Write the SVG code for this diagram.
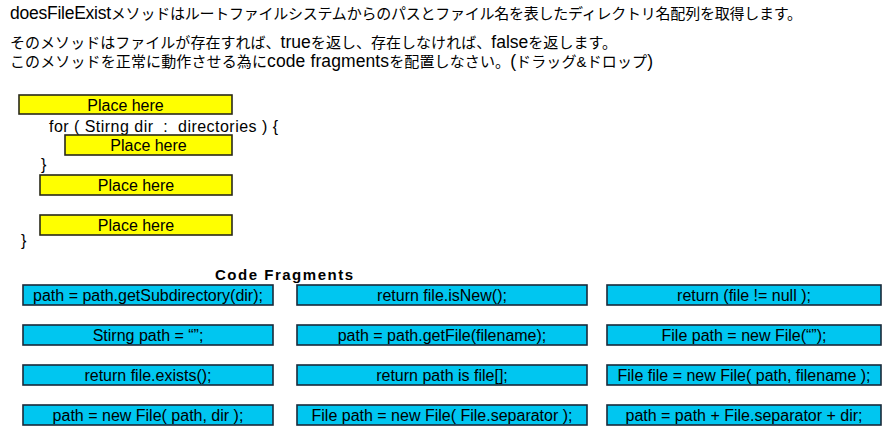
<svg xmlns="http://www.w3.org/2000/svg" width="890" height="442" viewBox="0 0 890 442">
<style>
text{font-family:"Liberation Sans","Noto Sans CJK JP",sans-serif;fill:#000;white-space:pre}
.jp{font-size:15px}
.lat{font-size:17.5px}
.code{font-size:16px}
.mid{text-anchor:middle}
.slot{fill:#ffff00;stroke:#2a2a1a;stroke-width:1.6}
.frag{fill:#00c6f0;stroke:#1a2a3a;stroke-width:1.6}
.title{font-size:15px;font-weight:bold}
</style>
<rect width="890" height="442" fill="#fff"/>
<g id="instructions">
<text class="jp" x="10" y="19" textLength="792" lengthAdjust="spacing"><tspan class="lat">doesFileExist</tspan>メソッドはルートファイルシステムからのパスとファイル名を表したディレクトリ名配列を取得します。</text>
<text class="jp" x="10" y="48" textLength="607" lengthAdjust="spacing">そのメソッドはファイルが存在すれば、<tspan class="lat">true</tspan>を返し、存在しなければ、<tspan class="lat">false</tspan>を返します。</text>
<text class="jp" x="10" y="67" textLength="643" lengthAdjust="spacing">このメソッドを正常に動作させる為に<tspan class="lat">code fragments</tspan>を配置しなさい。<tspan class="lat">(</tspan>ドラッグ&amp;ドロップ<tspan class="lat">)</tspan></text>
</g>
<g id="code">
<text class="code" x="49" y="132" textLength="229" lengthAdjust="spacing">for ( Stirng dir  :  directories ) {</text>
<text class="code" x="41" y="170">}</text>
<text class="code" x="21" y="246">}</text>
</g>
<g id="slot1"><rect class="slot" x="19" y="95" width="213" height="19"/><text class="code mid" x="125.5" y="110.5">Place here</text></g>
<g id="slot2"><rect class="slot" x="65" y="135" width="167" height="20"/><text class="code mid" x="148.5" y="151">Place here</text></g>
<g id="slot3"><rect class="slot" x="40" y="175" width="192" height="20"/><text class="code mid" x="136" y="191">Place here</text></g>
<g id="slot4"><rect class="slot" x="40" y="215" width="192" height="20"/><text class="code mid" x="136" y="231">Place here</text></g>
<g id="fragments-title"><text class="title" x="215" y="280" textLength="138" lengthAdjust="spacing">Code Fragments</text></g>
<g id="f1"><rect class="frag" x="23" y="285" width="250" height="20"/><text class="code mid" x="148" y="301">path = path.getSubdirectory(dir);</text></g>
<g id="f2"><rect class="frag" x="297" y="285" width="290" height="20"/><text class="code mid" x="442" y="301">return file.isNew();</text></g>
<g id="f3"><rect class="frag" x="607" y="285" width="274" height="20"/><text class="code mid" x="744" y="301">return (file != null );</text></g>
<g id="f4"><rect class="frag" x="23" y="325" width="250" height="20"/><text class="code mid" x="148" y="341">Stirng path = “”;</text></g>
<g id="f5"><rect class="frag" x="297" y="325" width="290" height="20"/><text class="code mid" x="442" y="341">path = path.getFile(filename);</text></g>
<g id="f6"><rect class="frag" x="607" y="325" width="274" height="20"/><text class="code mid" x="744" y="341">File path = new File(“”);</text></g>
<g id="f7"><rect class="frag" x="23" y="365" width="250" height="20"/><text class="code mid" x="148" y="381">return file.exists();</text></g>
<g id="f8"><rect class="frag" x="297" y="365" width="290" height="20"/><text class="code mid" x="442" y="381">return path is file[];</text></g>
<g id="f9"><rect class="frag" x="607" y="365" width="274" height="20"/><text class="code mid" x="744" y="381">File file = new File( path, filename );</text></g>
<g id="f10"><rect class="frag" x="23" y="405" width="250" height="20"/><text class="code mid" x="148" y="421">path = new File( path, dir );</text></g>
<g id="f11"><rect class="frag" x="297" y="405" width="290" height="20"/><text class="code mid" x="442" y="421">File path = new File( File.separator );</text></g>
<g id="f12"><rect class="frag" x="607" y="405" width="274" height="20"/><text class="code mid" x="744" y="421">path = path + File.separator + dir;</text></g>
</svg>
